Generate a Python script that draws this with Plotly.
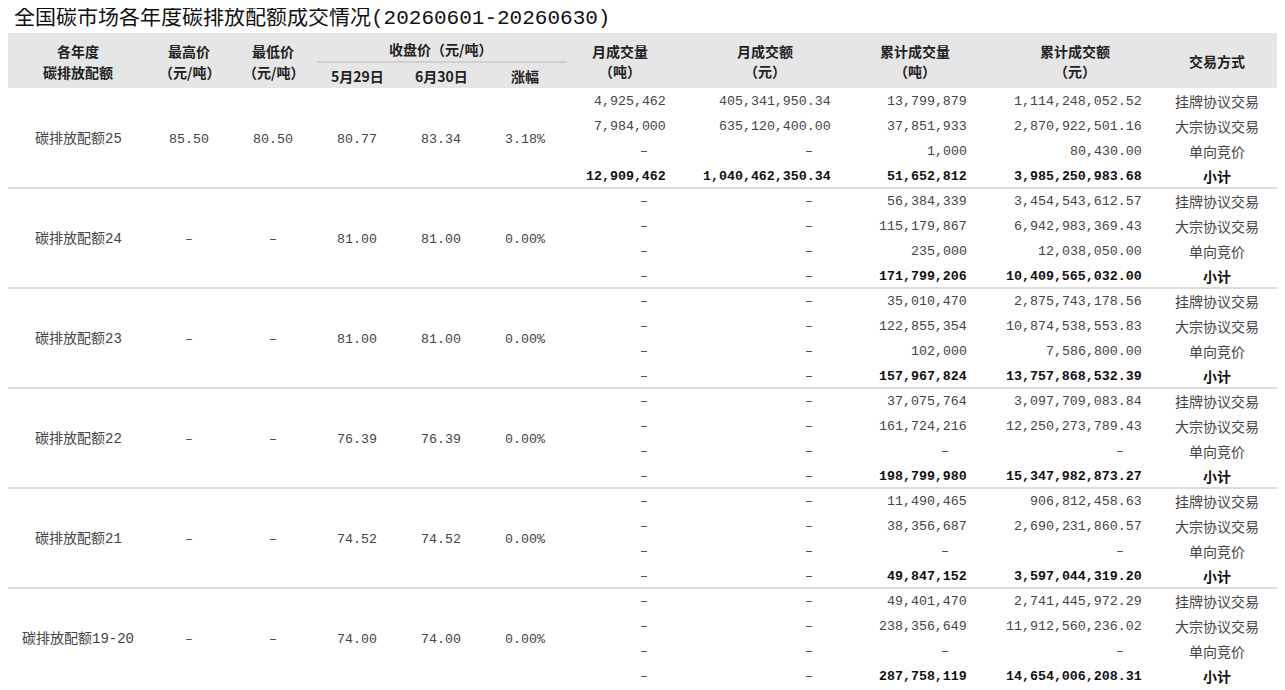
import plotly.graph_objects as go

title = "全国碳市场各年度碳排放配额成交情况(20260601-20260630)"
products = ["碳排放配额25", "碳排放配额24", "碳排放配额23", "碳排放配额22", "碳排放配额21", "碳排放配额19-20"]
high = ["85.50", "–", "–", "–", "–", "–"]
low = ["80.50", "–", "–", "–", "–", "–"]
close_0529 = ["80.77", "81.00", "81.00", "76.39", "74.52", "74.00"]
close_0630 = ["83.34", "81.00", "81.00", "76.39", "74.52", "74.00"]
change = ["3.18%", "0.00%", "0.00%", "0.00%", "0.00%", "0.00%"]
trade_types = ["挂牌协议交易", "大宗协议交易", "单向竞价", "小计"]
month_vol = [
    ["4,925,462", "7,984,000", "–", "12,909,462"],
    ["–", "–", "–", "–"], ["–", "–", "–", "–"], ["–", "–", "–", "–"],
    ["–", "–", "–", "–"], ["–", "–", "–", "–"],
]
month_amt = [
    ["405,341,950.34", "635,120,400.00", "–", "1,040,462,350.34"],
    ["–", "–", "–", "–"], ["–", "–", "–", "–"], ["–", "–", "–", "–"],
    ["–", "–", "–", "–"], ["–", "–", "–", "–"],
]
cum_vol = [
    ["13,799,879", "37,851,933", "1,000", "51,652,812"],
    ["56,384,339", "115,179,867", "235,000", "171,799,206"],
    ["35,010,470", "122,855,354", "102,000", "157,967,824"],
    ["37,075,764", "161,724,216", "–", "198,799,980"],
    ["11,490,465", "38,356,687", "–", "49,847,152"],
    ["49,401,470", "238,356,649", "–", "287,758,119"],
]
cum_amt = [
    ["1,114,248,052.52", "2,870,922,501.16", "80,430.00", "3,985,250,983.68"],
    ["3,454,543,612.57", "6,942,983,369.43", "12,038,050.00", "10,409,565,032.00"],
    ["2,875,743,178.56", "10,874,538,553.83", "7,586,800.00", "13,757,868,532.39"],
    ["3,097,709,083.84", "12,250,273,789.43", "–", "15,347,982,873.27"],
    ["906,812,458.63", "2,690,231,860.57", "–", "3,597,044,319.20"],
    ["2,741,445,972.29", "11,912,560,236.02", "–", "14,654,006,208.31"],
]

FONT = "Liberation Mono, Noto Sans CJK SC, monospace"
CJK = "Noto Sans CJK SC"
fig = go.Figure()
ann = []
shapes = []

def t(x, y, s, anchor="center", size=13.3, bold=False, color="#444", fam=FONT):
    ann.append(dict(x=x, y=y, text=("<b>%s</b>" % s) if bold else s, showarrow=False,
                    xanchor=anchor, yanchor="middle", font=dict(size=size, color=color, family=fam)))

t(12, 18, title, "left", 21, False, "#111", FONT)
shapes.append(dict(type="rect", x0=7, x1=1280, y0=33, y1=88, fillcolor="#e6e6e6", line_width=0, layer="below"))
shapes.append(dict(type="line", x0=317, x1=567, y0=62, y1=62, line=dict(color="#bbb", width=1)))
hc = "#222"
hs = 14
def h(x, y, s):
    t(x, y, s, bold=True, color=hc, fam=CJK, size=hs)
h(78, 51, "各年度"); h(78, 72, "碳排放配额")
h(189, 51, "最高价"); h(189, 72, "（元/吨）")
h(273, 51, "最低价"); h(273, 72, "（元/吨）")
h(440, 49, "收盘价（元/吨）")
h(357, 76, "5月29日"); h(441, 76, "6月30日"); h(525, 76, "涨幅")
h(620, 51, "月成交量"); h(620, 71, "（吨）")
h(765, 51, "月成交额"); h(765, 71, "（元）")
h(915, 51, "累计成交量"); h(915, 71, "（吨）")
h(1075, 51, "累计成交额"); h(1075, 71, "（元）")
h(1217, 61, "交易方式")

rights = [668, 833, 969, 1144]
for g in range(len(products)):
    top = 88 + 100 * g
    mid = top + 51
    t(78, mid, products[g], fam=FONT, size=14)
    t(189, mid, high[g]); t(273, mid, low[g])
    t(357, mid, close_0529[g]); t(441, mid, close_0630[g]); t(525, mid, change[g])
    for r in range(4):
        y = top + 13 + 25 * r
        bold = r == 3
        for ci, col in enumerate([month_vol, month_amt, cum_vol, cum_amt]):
            v = col[g][r]
            if v == "–":
                t(rights[ci] - 18, y, v, "right")
            else:
                t(rights[ci], y, v, "right", 13.3, bold, "#111" if bold else "#444")
        t(1217, y, trade_types[r], fam=CJK, size=14, bold=bold,
          color="#111" if bold else "#444")
    if g < len(products) - 1:
        shapes.append(dict(type="line", x0=7, x1=1280, y0=top + 100, y1=top + 100,
                           line=dict(color="#bbb", width=1.2)))

# page body has an 8px margin; offset axis ranges so data coordinates match window pixels
fig.update_layout(width=1285, height=690, margin=dict(l=0, r=0, t=0, b=0),
                  plot_bgcolor="white", paper_bgcolor="white",
                  xaxis=dict(range=[8, 1293], visible=False, fixedrange=True),
                  yaxis=dict(range=[698, 8], visible=False, fixedrange=True),
                  annotations=ann, shapes=shapes, showlegend=False)
fig.write_html("out.html", config={"displayModeBar": False})
